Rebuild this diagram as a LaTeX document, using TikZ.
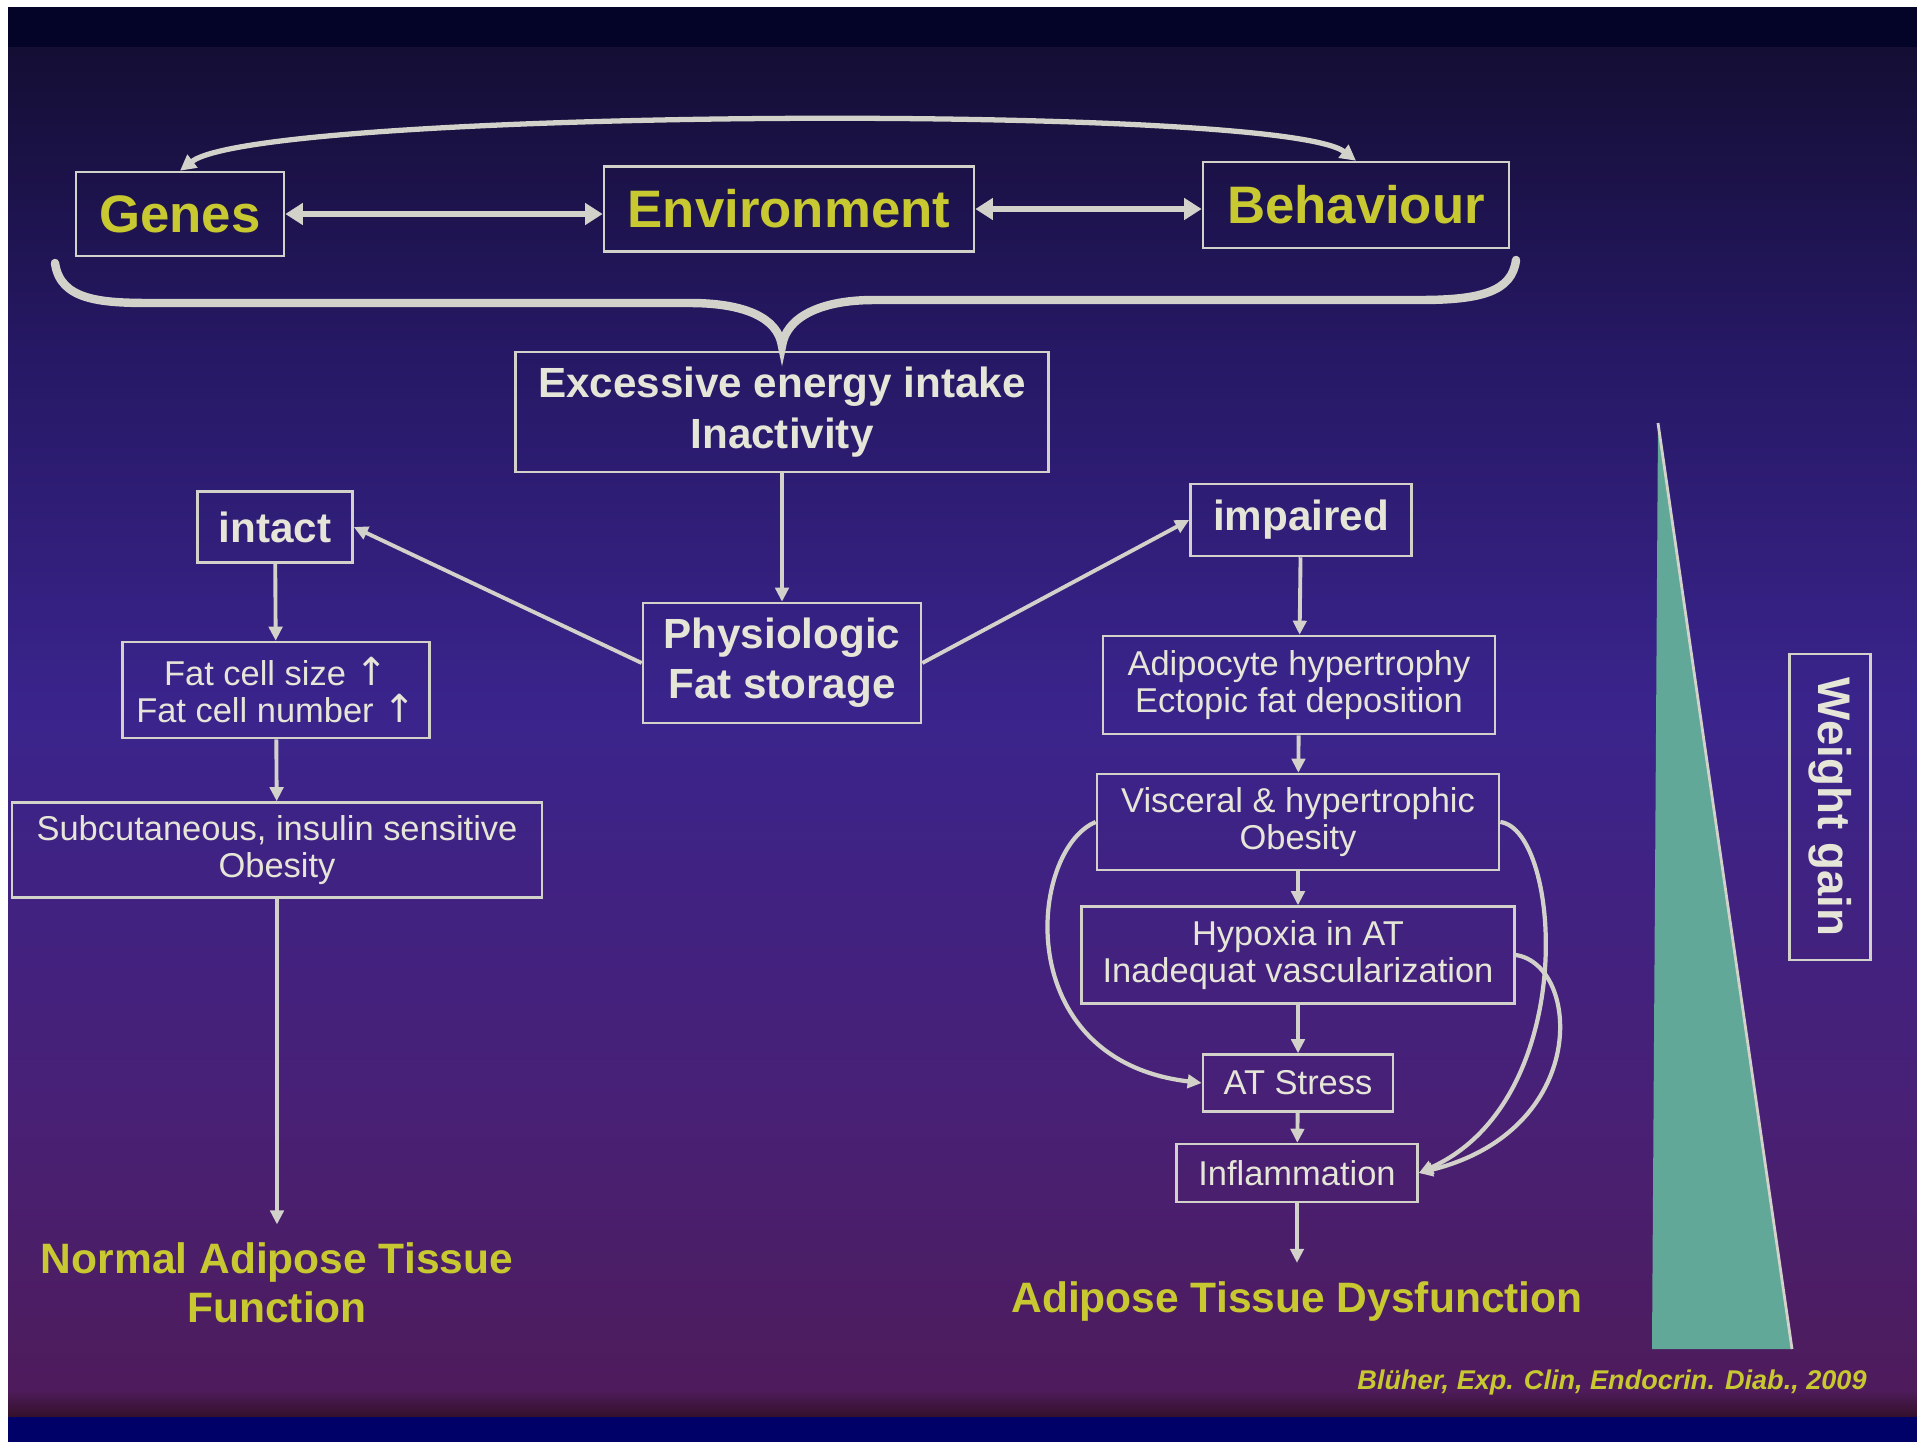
\documentclass[tikz,border=0pt]{standalone}
\usepackage{fontspec}
\setmainfont{Liberation Sans}
\newfontfamily\arrowfont{DejaVu Sans}
\usetikzlibrary{arrows.meta, positioning, calc}

\definecolor{slidetop}{RGB}{4,3,40}
\definecolor{slidebot}{RGB}{0,0,105}
\definecolor{linegray}{RGB}{210,210,202}
\definecolor{textwhite}{RGB}{230,230,216}
\definecolor{titleyellow}{RGB}{200,200,48}
\definecolor{wedgeteal}{RGB}{98,168,152}
\definecolor{bgA}{RGB}{52,16,42}
\definecolor{bgB}{RGB}{78,28,92}
\definecolor{bgC}{RGB}{72,32,118}
\definecolor{bgD}{RGB}{58,36,140}
\definecolor{bgE}{RGB}{38,24,100}
\definecolor{bgF}{RGB}{20,14,52}

\pgfdeclareverticalshading{slidebg}{100bp}{color(0bp)=(bgA); color(25bp)=(bgA); color(26bp)=(bgB); color(36.5bp)=(bgC); color(51bp)=(bgD); color(64bp)=(bgE); color(75bp)=(bgF); color(100bp)=(bgF)}

\newcommand{\uparr}{{\arrowfont\fontsize{11}{10.4}\selectfont ↑}}

\begin{document}
\begin{tikzpicture}[
    x=0.01cm, y=-0.01cm,
    font=\fontsize{9.8}{10.4}\selectfont,
    box/.style={rectangle, draw=linegray, line width=0.7pt, inner sep=2pt, align=center, text=textwhite},
    topbox/.style={box, font=\fontsize{15}{18}\selectfont\bfseries, text=titleyellow},
    keybox/.style={box, font=\fontsize{12}{14.3}\selectfont\bfseries},
    outcome/.style={align=center, inner sep=5pt, text=titleyellow, font=\fontsize{12.1}{14}\selectfont\bfseries},
    arrow/.style={-{Triangle[length=4pt, width=3.8pt]}, line width=1.1pt, draw=linegray},
    twoway/.style={{Triangle[length=5pt, width=6pt]}-{Triangle[length=5pt, width=6pt]}, line width=1.8pt, draw=linegray},
    arcarrow/.style={{Triangle[length=4.5pt, width=4.5pt]}-{Triangle[length=4.5pt, width=4.5pt]}, line width=1.5pt, draw=linegray},
    curvearrow/.style={arrow, line width=1.2pt}
]

% Slide background
\fill[white] (0,0) rectangle (1917,1442);
\fill[shading=slidebg] (8,47) rectangle (1917,1417);
\fill[slidetop] (8,7) rectangle (1917,47);
\fill[slidebot] (8,1417) rectangle (1917,1442);
\useasboundingbox (0,0) rectangle (1917,1442);

% Top row
\node (genes) [topbox, minimum width=2.08cm, minimum height=0.84cm] at (180,214) {Genes};
\node (environment) [topbox, minimum width=3.70cm, minimum height=0.85cm] at (789,209) {Environment};
\node (behaviour) [topbox, minimum width=3.06cm, minimum height=0.86cm] at (1356,205) {Behaviour};

% Intake and storage
\node (excess) [keybox, minimum width=5.33cm, minimum height=1.20cm] at (782,412) {Excessive energy intake\\Inactivity};
\node (physio) [keybox, minimum width=2.78cm, minimum height=1.20cm] at (782,663) {Physiologic\\Fat storage};
\node (intact) [keybox, minimum width=1.55cm, minimum height=0.71cm] at (275,527) {intact};
\node (impaired) [keybox, minimum width=2.21cm, minimum height=0.72cm] at (1301,520) {impaired};

% Left branch
\node (fatcell) [box, minimum width=3.07cm, minimum height=0.96cm] at (276,690) {Fat cell size \uparr\\Fat cell number \uparr};
\node (subcut) [box, minimum width=5.30cm, minimum height=0.95cm] at (277,850) {Subcutaneous, insulin sensitive\\Obesity};
\node (normal) [outcome] at (277,1283) {Normal Adipose Tissue\\Function};

% Right branch
\node (adipo) [box, minimum width=3.92cm, minimum height=0.98cm] at (1299,685) {Adipocyte hypertrophy\\Ectopic fat deposition};
\node (visceral) [box, minimum width=4.02cm, minimum height=0.96cm] at (1298,822) {Visceral \& hypertrophic\\Obesity};
\node (hypoxia) [box, minimum width=4.33cm, minimum height=0.97cm] at (1298,955) {Hypoxia in AT\\Inadequat vascularization};
\node (stress) [box, minimum width=1.90cm, minimum height=0.57cm] at (1298,1083) {AT Stress};
\node (inflam) [box, minimum width=2.41cm, minimum height=0.58cm] at (1297,1173) {Inflammation};
\node (dysfunc) [outcome] at (1297,1301) {Adipose Tissue Dysfunction};

% Weight gain wedge
\fill[wedgeteal] (1658,423) -- (1792,1349) -- (1652,1349) -- cycle;
\draw[linegray, line width=0.8pt] (1658,423) -- (1792,1349);
\node (weight) [box, rotate=-90, font=\fontsize{13}{15}\selectfont\bfseries, minimum width=3.06cm, minimum height=0.81cm] at (1830,807) {Weight gain};

\node (cite) [text=titleyellow, font=\fontsize{7.7}{9}\selectfont\bfseries\itshape] at (1612,1382) {Blüher, Exp. Clin, Endocrin. Diab., 2009};

% Brace
\draw[linegray, line width=2.4pt, line cap=round] (55,263) .. controls (60,300) and (100,303) .. (150,303) -- (690,303) .. controls (745,303) and (778,318) .. (782,346) .. controls (786,318) and (819,300) .. (874,300) -- (1420,300) .. controls (1480,300) and (1512,292) .. (1516,260);

% Arrows
\draw [arcarrow] (genes.north) .. controls +(80,-62) and +(-76,-58) .. (behaviour.north);
\draw [twoway] (genes.east) -- (genes.east -| environment.west);
\draw [twoway] (environment.east) -- (environment.east -| behaviour.west);

\draw [arrow] (excess) -- (physio);
\draw [arrow] (physio.west) -- (intact.east);
\draw [arrow] (physio.east) -- (impaired.west);

\draw [arrow] (intact) -- (fatcell);
\draw [arrow] (fatcell) -- (subcut);
\draw [arrow] (subcut) -- (normal);

\draw [arrow] (impaired) -- (adipo);
\draw [arrow] (adipo) -- (visceral);
\draw [arrow] (visceral) -- (hypoxia);
\draw [arrow] (hypoxia) -- (stress);
\draw [arrow] (stress) -- (inflam);
\draw [arrow] (inflam) -- (dysfunc);

\draw [curvearrow] (visceral.west) .. controls +(-67,28) and +(-193,-23) .. (stress.west);
\draw [curvearrow] (visceral.east) .. controls +(61,8) and +(162,-73) .. (inflam.east);
\draw [curvearrow] (hypoxia.east) .. controls +(65,10) and +(172,-43) .. (inflam.east);

\end{tikzpicture}
\end{document}
